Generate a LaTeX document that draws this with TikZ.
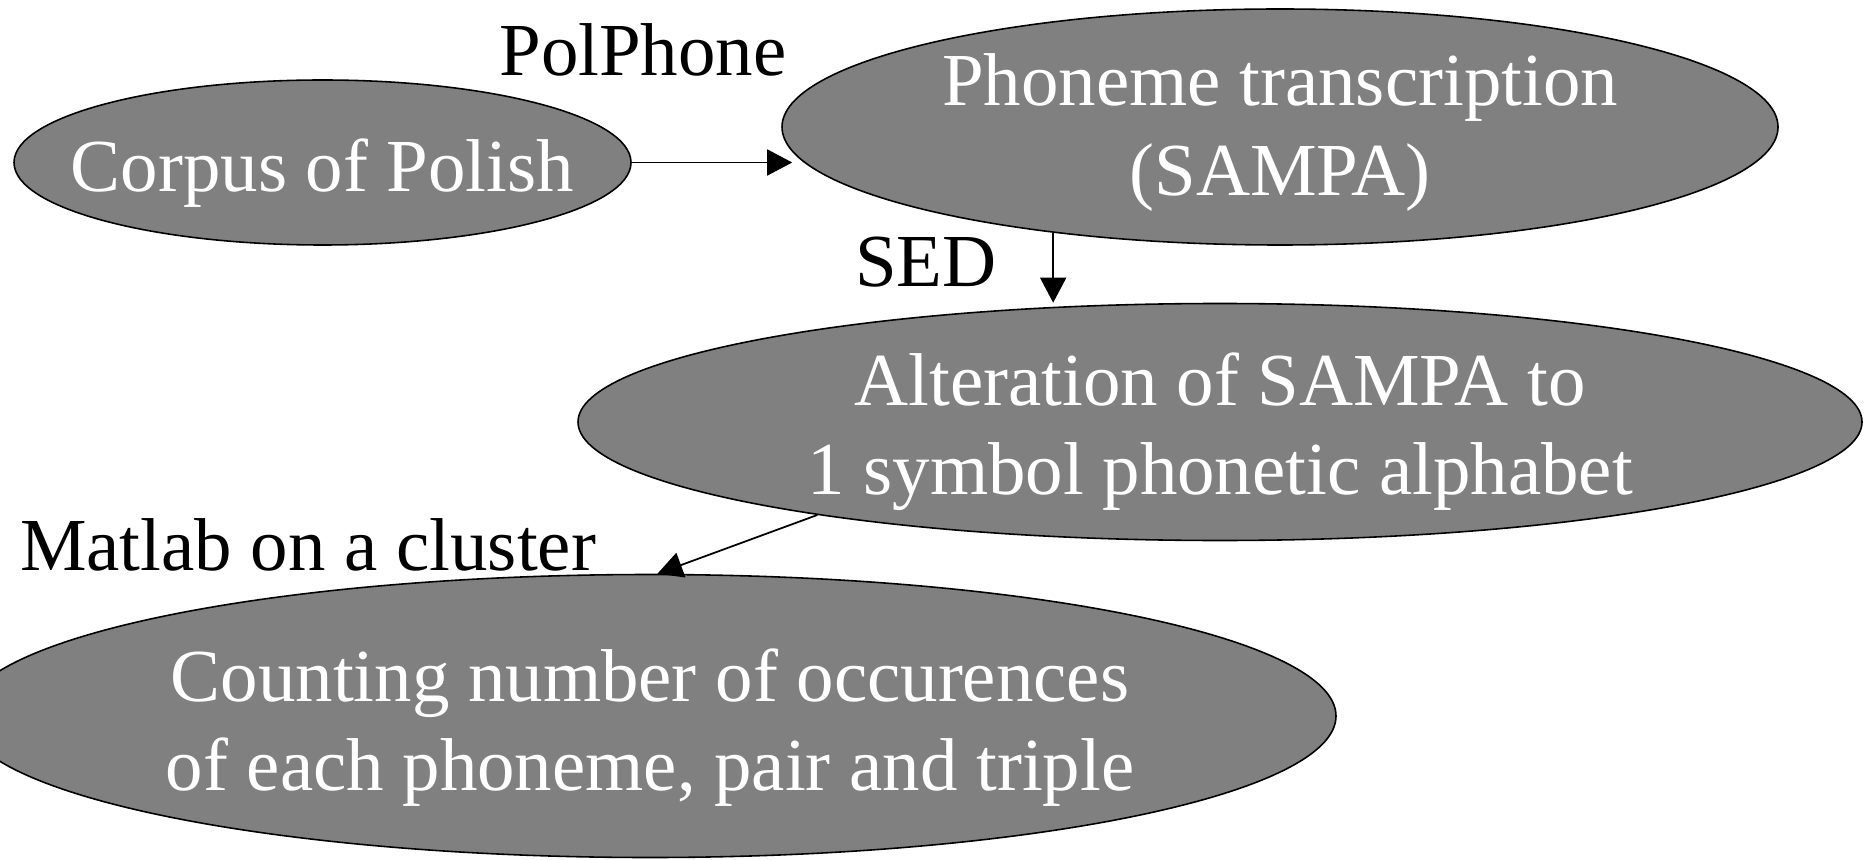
\documentclass[tikz,border=0pt]{standalone}
\usepackage{fontspec}
\setmainfont{Liberation Serif}
\usetikzlibrary{shapes.geometric,arrows.meta,positioning}

\begin{document}
\begin{tikzpicture}[x=0.1mm, y=-0.1mm, node distance = 4em, auto]
    \tikzset{>={Triangle[length=2.5mm, width=2.6mm]}}
    % Styles for the steps and the tool labels
    \tikzstyle{stage}   = [ellipse, inner xsep = -1cm, inner ysep = -1mm, draw = black, line width = 0.45pt, fill = black!50, text = white, align = center, font = \fontsize{21.3}{25.5}\selectfont]
    \tikzstyle{tool}    = [inner sep = 0pt, text = black, font = \fontsize{21.3}{25}\selectfont]
    \tikzstyle{arrow}   = [line width = 0.5pt, ->]

    \useasboundingbox (0,0) rectangle (1864,860);

    \node[stage, minimum width = 61.7mm, minimum height = 16.5mm] (corpus) at (322.5,162.5) {\rule{0pt}{21pt}Corpus of Polish};
    \node[stage, minimum width = 99.6mm, minimum height = 23.6mm] (phoneme) at (1280,127) {\rule{0pt}{18pt}Phoneme transcription\\(SAMPA)};
    \node[stage, minimum width = 128.4mm, minimum height = 23.7mm] (alteration) at (1220,422) {\rule{0pt}{20.5pt}Alteration of SAMPA to\\1 symbol phonetic alphabet};
    \node[stage, minimum width = 137.2mm, minimum height = 28.3mm] (counting) at (650,716) {\rule{0pt}{21.5pt}Counting number of occurences\\of each phoneme, pair and triple};

    \node[tool] (polphone) at (643,50) {PolPhone};
    \node[tool] (sed) at (926,262) {SED};
    \node[tool] (matlab) at (308,545) {Matlab on a cluster};

    \draw[arrow, shorten >= -1.1mm] (corpus.east) -- (corpus.east -| phoneme.west);
    \draw[arrow] (phoneme.205.6) -- (phoneme.205.6 |- alteration.north);
    \draw[arrow] (alteration.193.2) -- (counting.87);
\end{tikzpicture}
\end{document}
